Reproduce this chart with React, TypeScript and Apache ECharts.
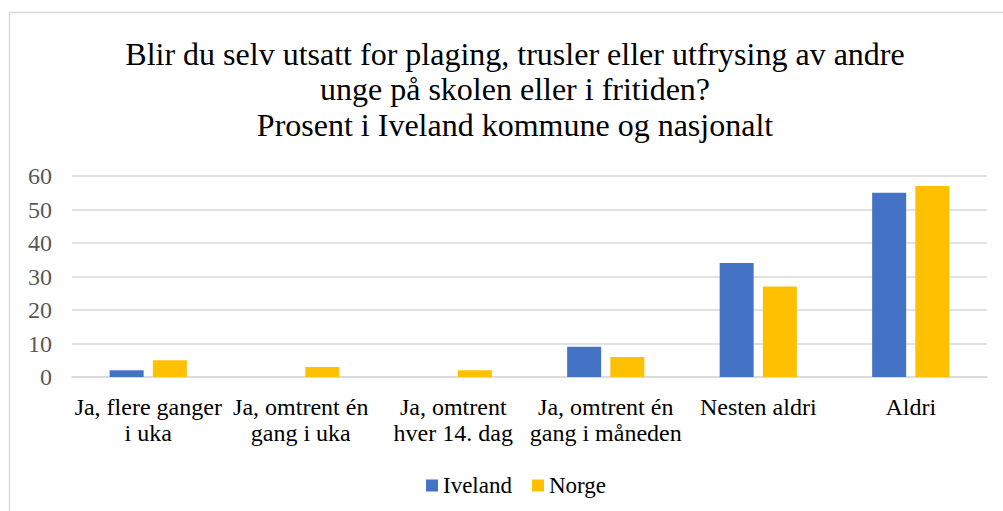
import React, { useEffect, useRef } from "react";
import * as echarts from "echarts";

const categories = [
  "Ja, flere ganger\ni uka",
  "Ja, omtrent én\ngang i uka",
  "Ja, omtrent\nhver 14. dag",
  "Ja, omtrent én\ngang i måneden",
  "Nesten aldri",
  "Aldri",
];
const iveland = [2, 0, 0, 9, 34, 55];
const norge = [5, 3, 2, 6, 27, 57];
const titleText =
  "Blir du selv utsatt for plaging, trusler eller utfrysing av andre\nunge på skolen eller i fritiden?\nProsent i Iveland kommune og nasjonalt";

const FONT = "'Liberation Serif', 'Times New Roman', serif";

export default function App() {
  const ref = useRef<HTMLDivElement>(null);
  useEffect(() => {
    document.body.style.margin = "0";
    const chart = echarts.init(ref.current!, null, { renderer: "svg" });
    chart.setOption({
      animation: false,
      backgroundColor: "#ffffff",
      textStyle: { fontFamily: FONT },
      title: {
        text: titleText,
        left: 510,
        textAlign: "center",
        top: 31,
        textStyle: {
          fontFamily: FONT,
          fontSize: 32,
          fontWeight: "normal",
          color: "#000000",
          lineHeight: 35.5,
        },
      },
      graphic: [
        {
          type: "rect",
          shape: { x: 9.5, y: 12.5, width: 1100, height: 600 },
          style: { fill: "none", stroke: "#d9d9d9", lineWidth: 1.5 },
          silent: true,
        },
      ],
      legend: {
        data: ["Iveland", "Norge"],
        left: 421,
        top: 469,
        itemWidth: 12,
        itemHeight: 12,
        itemGap: 20,
        icon: "rect",
        textStyle: { fontFamily: FONT, fontSize: 23, color: "#000000", padding: [0, 0, 0, 0] },
      },
      grid: { left: 72, right: 16, top: 176, bottom: 134, containLabel: false },
      xAxis: {
        type: "category",
        data: categories,
        axisLine: { show: true, lineStyle: { color: "#d9d9d9", width: 1.5 } },
        axisTick: { show: false },
        axisLabel: {
          interval: 0,
          fontFamily: FONT,
          fontSize: 24,
          color: "#000000",
          lineHeight: 26,
          margin: 17,
        },
      },
      yAxis: {
        type: "value",
        min: 0,
        max: 60,
        interval: 10,
        axisLine: { show: false },
        axisTick: { show: false },
        splitLine: { lineStyle: { color: "#d9d9d9", width: 1.5 } },
        axisLabel: { fontFamily: FONT, fontSize: 24, color: "#595959", margin: 20 },
      },
      series: [
        {
          name: "Iveland",
          type: "bar",
          data: iveland,
          barWidth: 34,
          barGap: "27%",
          itemStyle: { color: "#4472C4" },
        },
        {
          name: "Norge",
          type: "bar",
          data: norge,
          barWidth: 34,
          itemStyle: { color: "#FFC000" },
        },
      ],
    });
    return () => chart.dispose();
  }, []);
  return <div ref={ref} style={{ width: 1003, height: 511 }} />;
}
